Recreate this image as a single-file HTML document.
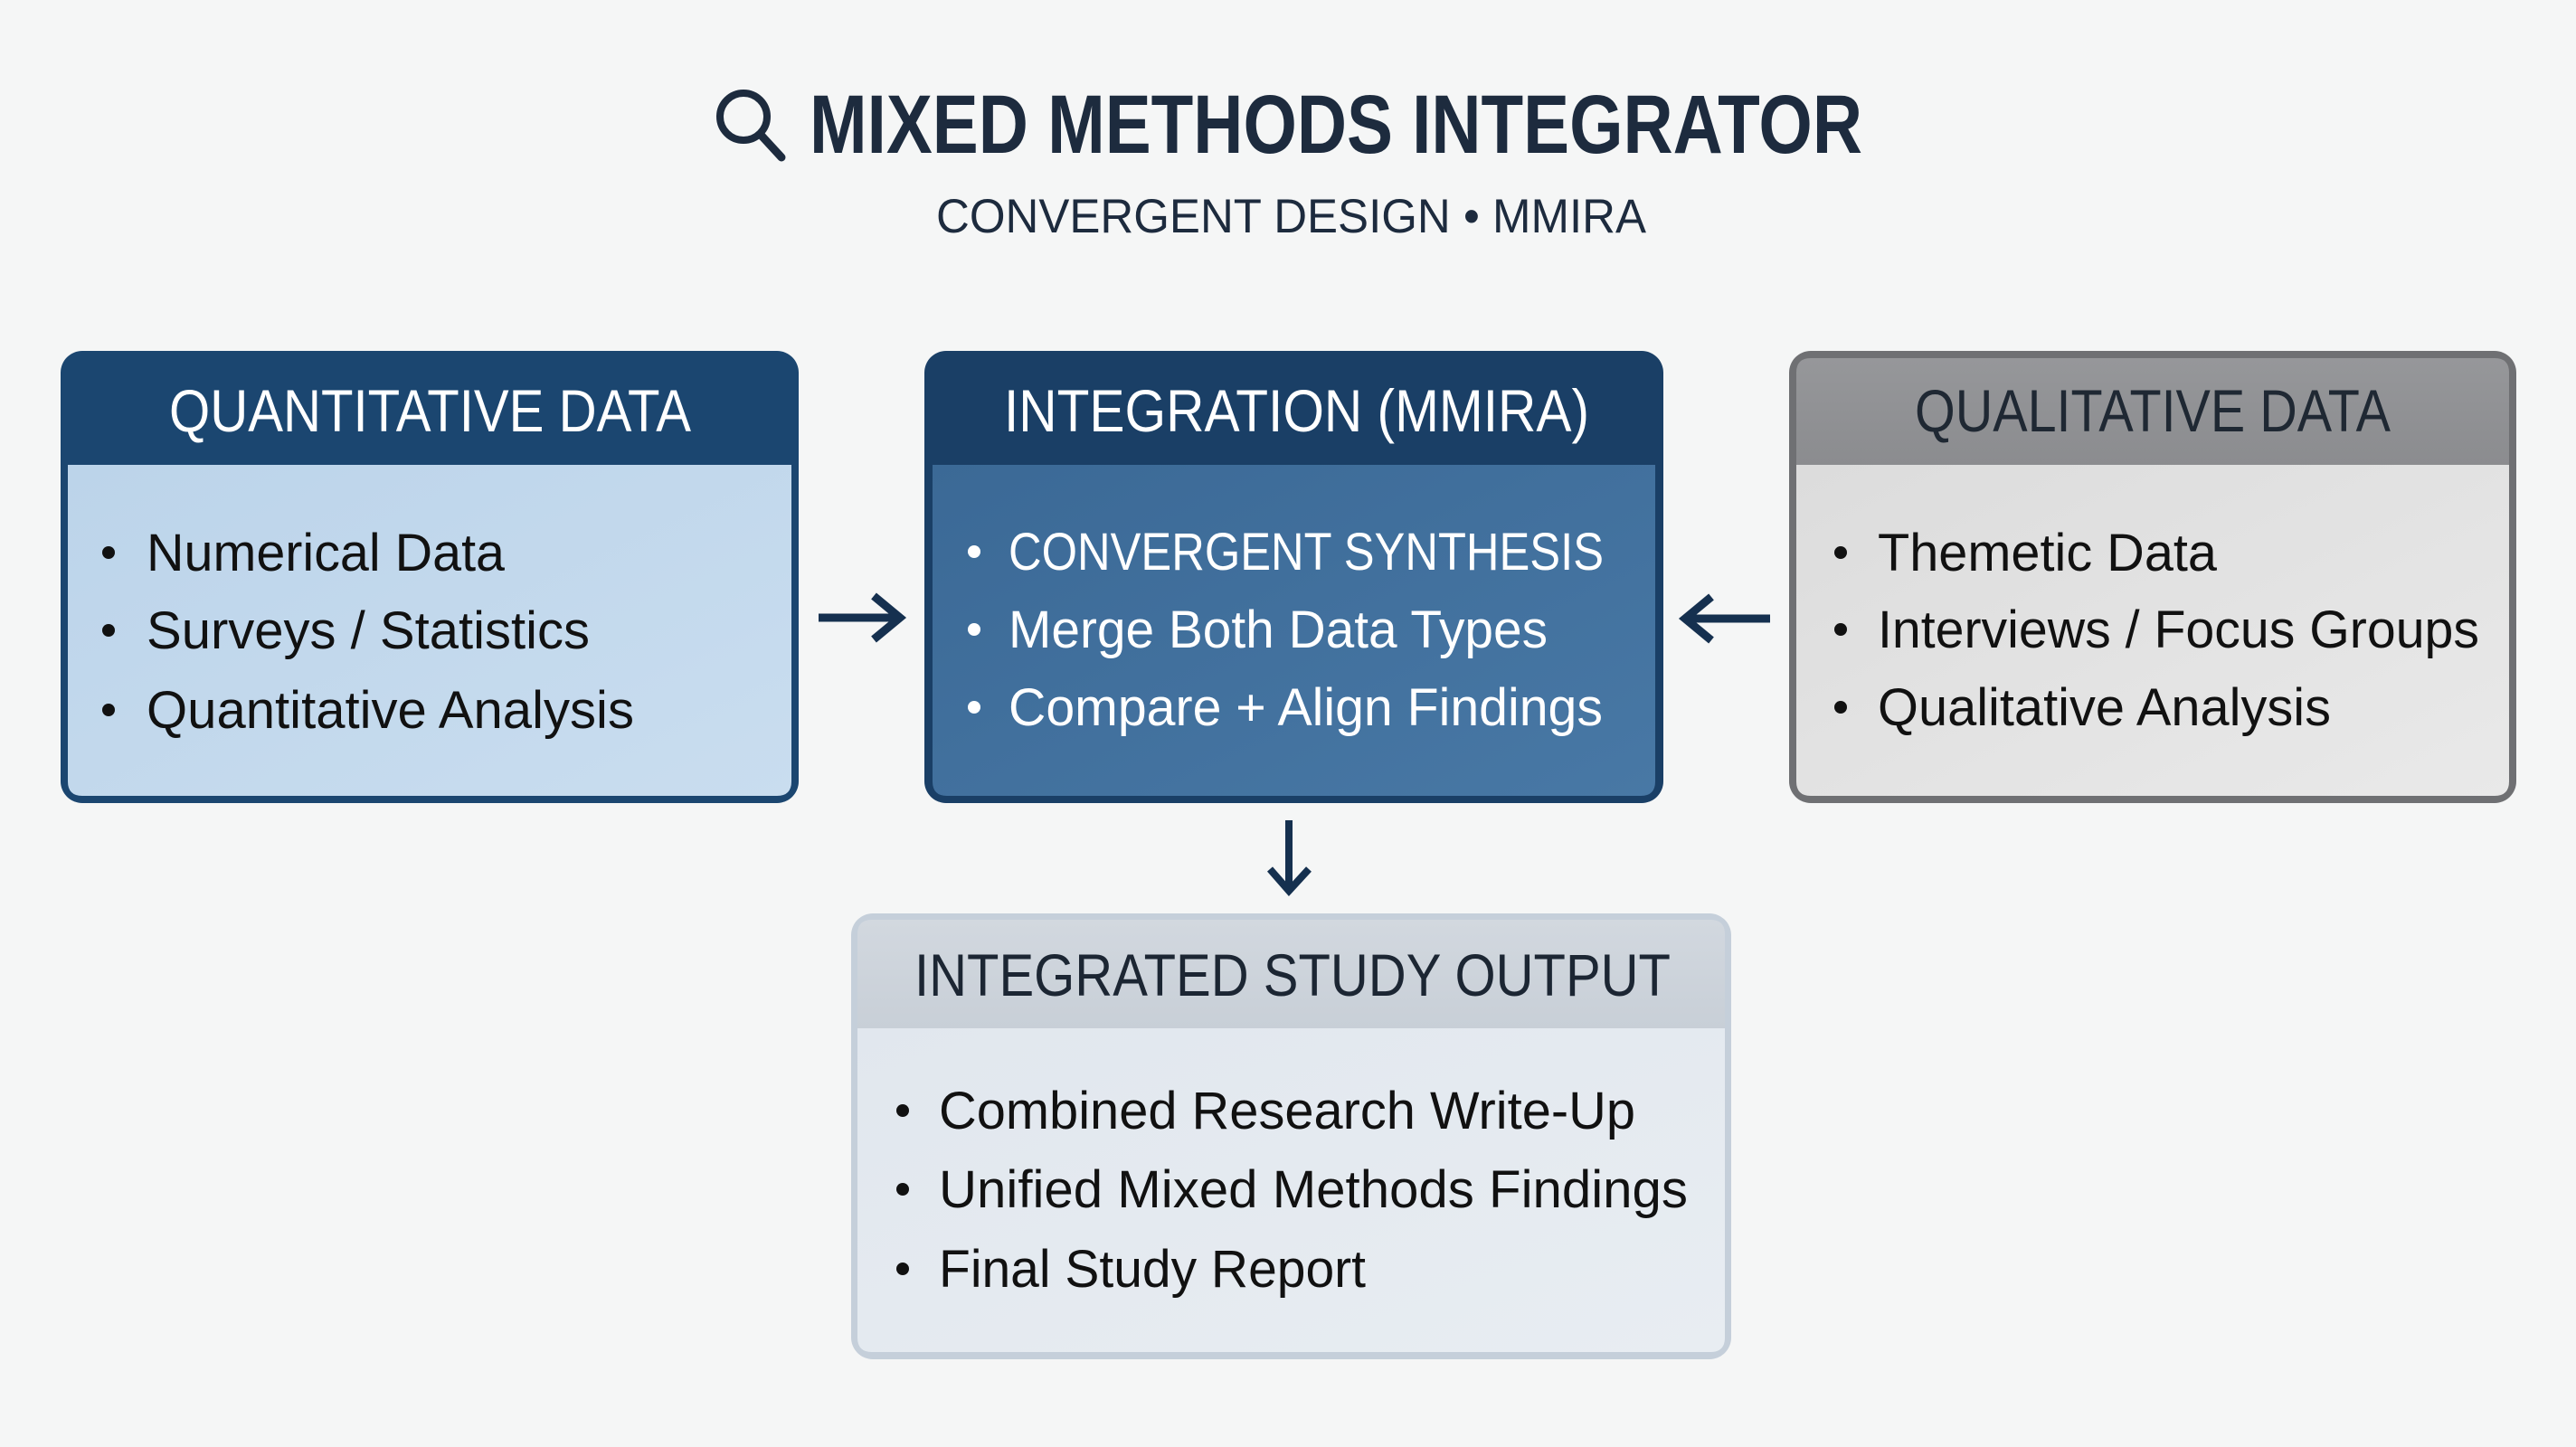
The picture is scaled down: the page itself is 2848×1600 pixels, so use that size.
<!DOCTYPE html>
<html>
<head>
<meta charset="utf-8">
<style>
  html,body{margin:0;padding:0;background:#f5f6f6;}
  body{width:2848px;height:1600px;overflow:hidden;}
  svg{display:block;}
  text{font-family:"Liberation Sans", Arial, sans-serif;}
</style>
</head>
<body>
<svg width="2848" height="1600" viewBox="0 0 2848 1600" xmlns="http://www.w3.org/2000/svg">
  <defs>
    <linearGradient id="gLeft" x1="0" y1="0" x2="1" y2="1">
      <stop offset="0" stop-color="#bcd4ea"/>
      <stop offset="1" stop-color="#c9ddef"/>
    </linearGradient>
    <linearGradient id="gMid" x1="0" y1="0" x2="1" y2="1">
      <stop offset="0" stop-color="#3b6996"/>
      <stop offset="1" stop-color="#4878a5"/>
    </linearGradient>
    <linearGradient id="gRight" x1="0" y1="0" x2="1" y2="1">
      <stop offset="0" stop-color="#dcdcdc"/>
      <stop offset="1" stop-color="#e9e9e9"/>
    </linearGradient>
    <linearGradient id="gRightHead" x1="0" y1="0" x2="0" y2="1">
      <stop offset="0" stop-color="#96979a"/>
      <stop offset="1" stop-color="#8b8c8f"/>
    </linearGradient>
    <linearGradient id="gBot" x1="0" y1="0" x2="1" y2="1">
      <stop offset="0" stop-color="#e1e7ee"/>
      <stop offset="1" stop-color="#e8edf2"/>
    </linearGradient>
    <linearGradient id="gBotHead" x1="0" y1="0" x2="0" y2="1">
      <stop offset="0" stop-color="#d2d8df"/>
      <stop offset="1" stop-color="#c8cfd7"/>
    </linearGradient>
  </defs>

  <rect x="0" y="0" width="2848" height="1600" fill="#f5f6f6"/>

  <!-- Title -->
  <g stroke="#1d2b3e" fill="none" stroke-linecap="round">
    <circle cx="822" cy="129" r="26" stroke-width="8"/>
    <line x1="841" y1="149" x2="864" y2="174" stroke-width="9"/>
  </g>
  <text x="895" y="169" font-size="92" font-weight="bold" fill="#1d2b3e" textLength="1164" lengthAdjust="spacingAndGlyphs">MIXED METHODS INTEGRATOR</text>
  <text x="1035" y="257" font-size="53" fill="#1d2b3e" textLength="785" lengthAdjust="spacingAndGlyphs">CONVERGENT DESIGN • MMIRA</text>

  <!-- LEFT BOX: Quantitative -->
  <rect x="67" y="388" width="816" height="500" rx="24" ry="24" fill="#1b4670"/>
  <path d="M75 514 H875 V864 Q875 880 859 880 H91 Q75 880 75 864 Z" fill="url(#gLeft)"/>
  <text x="187" y="477" font-size="66" fill="#ffffff" textLength="577" lengthAdjust="spacingAndGlyphs">QUANTITATIVE DATA</text>
  <g fill="#111111">
    <circle cx="120" cy="611" r="7"/>
    <circle cx="120" cy="697" r="7"/>
    <circle cx="120" cy="785" r="7"/>
  </g>
  <g font-size="58" fill="#111111">
    <text x="162" y="631" textLength="396" lengthAdjust="spacingAndGlyphs">Numerical Data</text>
    <text x="162" y="717" textLength="490" lengthAdjust="spacingAndGlyphs">Surveys / Statistics</text>
    <text x="162" y="805" textLength="539" lengthAdjust="spacingAndGlyphs">Quantitative Analysis</text>
  </g>

  <!-- MIDDLE BOX: Integration -->
  <rect x="1022" y="388" width="817" height="500" rx="24" ry="24" fill="#1a3f66"/>
  <path d="M1031 514 H1830 V864 Q1830 880 1814 880 H1047 Q1031 880 1031 864 Z" fill="url(#gMid)"/>
  <text x="1110" y="477" font-size="66" fill="#ffffff" textLength="647" lengthAdjust="spacingAndGlyphs">INTEGRATION (MMIRA)</text>
  <g fill="#ffffff">
    <circle cx="1077" cy="610" r="7"/>
    <circle cx="1077" cy="696" r="7"/>
    <circle cx="1077" cy="782" r="7"/>
  </g>
  <g font-size="58" fill="#ffffff">
    <text x="1115" y="630" textLength="658" lengthAdjust="spacingAndGlyphs">CONVERGENT SYNTHESIS</text>
    <text x="1115" y="716" textLength="596" lengthAdjust="spacingAndGlyphs">Merge Both Data Types</text>
    <text x="1115" y="802" textLength="657" lengthAdjust="spacingAndGlyphs">Compare + Align Findings</text>
  </g>

  <!-- RIGHT BOX: Qualitative -->
  <rect x="1978" y="388" width="804" height="500" rx="24" ry="24" fill="#6f7073"/>
  <path d="M1986 514 V412 Q1986 396 2002 396 H2758 Q2774 396 2774 412 V514 Z" fill="url(#gRightHead)"/>
  <path d="M1986 514 H2774 V864 Q2774 880 2758 880 H2002 Q1986 880 1986 864 Z" fill="url(#gRight)"/>
  <text x="2117" y="477" font-size="66" fill="#1f2833" textLength="526" lengthAdjust="spacingAndGlyphs">QUALITATIVE DATA</text>
  <g fill="#111111">
    <circle cx="2035" cy="611" r="7"/>
    <circle cx="2035" cy="696" r="7"/>
    <circle cx="2035" cy="782" r="7"/>
  </g>
  <g font-size="58" fill="#111111">
    <text x="2076" y="631" textLength="375" lengthAdjust="spacingAndGlyphs">Themetic Data</text>
    <text x="2076" y="716" textLength="665" lengthAdjust="spacingAndGlyphs">Interviews / Focus Groups</text>
    <text x="2076" y="802" textLength="501" lengthAdjust="spacingAndGlyphs">Qualitative Analysis</text>
  </g>

  <!-- Arrows -->
  <g stroke="#15304f" stroke-width="9" fill="none" stroke-linecap="butt" stroke-linejoin="miter">
    <line x1="905" y1="683" x2="993" y2="683"/>
    <polyline points="966,659 995,683 966,707"/>
    <line x1="1866" y1="684" x2="1957" y2="684"/>
    <polyline points="1892,660 1863,684 1892,708"/>
  </g>
  <g stroke="#15304f" stroke-width="8" fill="none">
    <line x1="1425" y1="907" x2="1425" y2="984"/>
    <polyline points="1404,961 1425,985 1447,961"/>
  </g>

  <!-- BOTTOM BOX: Output -->
  <rect x="941" y="1010" width="973" height="493" rx="24" ry="24" fill="#c5cfda"/>
  <path d="M948 1137 V1033 Q948 1017 964 1017 H1891 Q1907 1017 1907 1033 V1137 Z" fill="url(#gBotHead)"/>
  <path d="M948 1137 H1907 V1479 Q1907 1495 1891 1495 H964 Q948 1495 948 1479 Z" fill="url(#gBot)"/>
  <text x="1011" y="1101" font-size="66" fill="#1c2633" textLength="836" lengthAdjust="spacingAndGlyphs">INTEGRATED STUDY OUTPUT</text>
  <g fill="#111111">
    <circle cx="998" cy="1228" r="7"/>
    <circle cx="998" cy="1315" r="7"/>
    <circle cx="998" cy="1403" r="7"/>
  </g>
  <g font-size="58" fill="#111111">
    <text x="1038" y="1248" textLength="770" lengthAdjust="spacingAndGlyphs">Combined Research Write-Up</text>
    <text x="1038" y="1335" textLength="828" lengthAdjust="spacingAndGlyphs">Unified Mixed Methods Findings</text>
    <text x="1038" y="1423" textLength="472" lengthAdjust="spacingAndGlyphs">Final Study Report</text>
  </g>
</svg>
</body>
</html>
